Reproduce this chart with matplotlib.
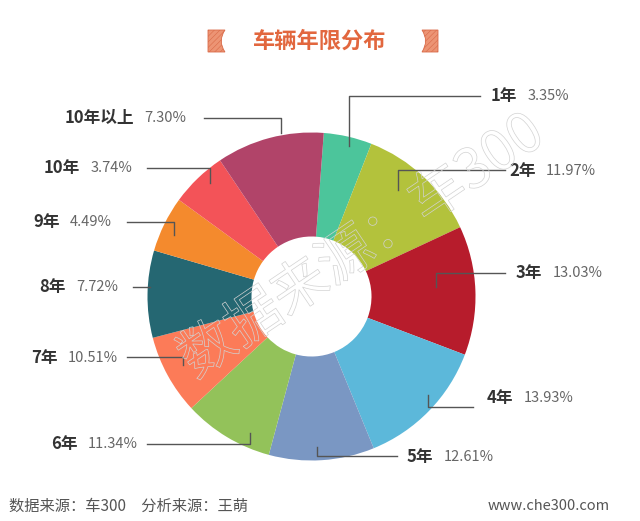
import matplotlib
matplotlib.use("Agg")
import matplotlib.pyplot as plt
import matplotlib.patheffects as pe
from matplotlib.path import Path
from matplotlib.patches import PathPatch

plt.rcParams['font.family'] = ['Noto Sans CJK SC', 'DejaVu Sans']

W, H = 640, 521

# data
names = ["1年", "2年", "3年", "4年", "5年", "6年", "7年", "8年", "9年", "10年", "10年以上"]
pct_labels = [3.35, 11.97, 13.03, 13.93, 12.61, 11.34, 10.51, 7.72, 4.49, 3.74, 7.30]
# wedge sizes as drawn (degrees), they do not follow the printed percentages
slice_deg = [17.1, 43.6, 45.8, 46.9, 37.4, 32.0, 28.3, 30.9, 19.8, 20.0, 38.2]
colors = ["#4CC59B", "#B3C23C", "#B71C2C", "#5CB8DA", "#7A97C3", "#93C25A",
          "#FC7B58", "#256772", "#F48A2D", "#F35358", "#B14469"]

# label layout in pixels (y from top):
# anchor x, anchor y, line y, line end x, text x, text y, side
layout = [
    (349, 146, 96, 480, 491, 96, 'r'),
    (398, 190, 170, 505, 509, 171, 'r'),
    (436, 287, 273, 505, 516, 273, 'r'),
    (428, 395, 407, 473, 487, 398, 'r'),
    (317, 447, 456, 397, 407, 457, 'r'),
    (250, 433, 444, 147, 138, 444, 'l'),
    (183, 365, 357, 127, 118, 358, 'l'),
    (150, 287, 287, 133, 118, 287, 'l'),
    (174, 235, 222, 127, 112, 222, 'l'),
    (210, 183, 168, 147, 132, 168, 'l'),
    (281, 133, 118, 204, 186, 118, 'l'),
]


def Y(y):
    return H - y


def bracket(x0, x1, y0, y1, left=True):
    # solid title bracket with a concave inner side
    mid = (y0 + y1) / 2
    depth = (x1 - x0) * 0.45
    if left:
        verts = [(x0, Y(y0)), (x1, Y(y0)), (x1 - depth, Y(mid)), (x1, Y(y1)),
                 (x0, Y(y1)), (x0, Y(y0))]
    else:
        verts = [(x1, Y(y0)), (x0, Y(y0)), (x0 + depth, Y(mid)), (x0, Y(y1)),
                 (x1, Y(y1)), (x1, Y(y0))]
    codes = [Path.MOVETO, Path.LINETO, Path.CURVE3, Path.CURVE3, Path.LINETO, Path.CLOSEPOLY]
    return PathPatch(Path(verts, codes), facecolor='#EC9474', edgecolor='#D96A48',
                     lw=0.6, hatch='//////')


fig = plt.figure(figsize=(W / 100, H / 100), dpi=100)
ax = fig.add_axes([0, 0, 1, 1])

ax.pie(slice_deg, colors=colors, startangle=90 - 4.3, counterclock=False,
       radius=164, center=(311.5, Y(296.5)),
       wedgeprops=dict(width=104, linewidth=0))
ax.set_xlim(0, W)
ax.set_ylim(0, H)
ax.set_aspect('auto')
ax.axis('off')

renderer = fig.canvas.get_renderer()
for name, pct, (axx, ayy, ly, lx, tx, ty, side) in zip(names, pct_labels, layout):
    ax.plot([axx, axx, lx], [Y(ayy), Y(ly), Y(ly)], color='#555555', lw=1)
    if side == 'r':
        t = ax.text(tx, Y(ty), name, fontsize=12, fontweight='bold',
                    color='#333333', ha='left', va='center')
        bb = t.get_window_extent(renderer=renderer)
        ax.text(bb.x1 + 10, Y(ty), f"{pct:.2f}%", fontsize=10.5,
                color='#666666', ha='left', va='center')
    else:
        t = ax.text(tx, Y(ty), f"{pct:.2f}%", fontsize=10.5,
                    color='#666666', ha='right', va='center')
        bb = t.get_window_extent(renderer=renderer)
        ax.text(bb.x0 - 10, Y(ty), name, fontsize=12, fontweight='bold',
                color='#333333', ha='right', va='center')

# title with brackets
ax.text(320, Y(41), "车辆年限分布", fontsize=16, fontweight='bold',
        color='#E2673E', ha='center', va='center')
plt.rcParams['hatch.color'] = '#D96A48'
plt.rcParams['hatch.linewidth'] = 0.4
ax.add_patch(bracket(208, 225, 30, 52, left=True))
ax.add_patch(bracket(422, 438, 30, 52, left=False))

# watermark
ax.text(362, Y(247), "数据来源：车300", fontsize=40, rotation=34,
        ha='center', va='center', color='none',
        path_effects=[pe.PathPatchEffect(edgecolor='#d2d2d2', facecolor='none', linewidth=0.5)])

# footer
ax.text(9, Y(506), "数据来源：车300　分析来源：王萌", fontsize=11,
        color='#555555', ha='left', va='center')
ax.text(610, Y(506), "www.che300.com", fontsize=10.5,
        color='#555555', ha='right', va='center')

fig.savefig("out.png", dpi=100, facecolor='white')
